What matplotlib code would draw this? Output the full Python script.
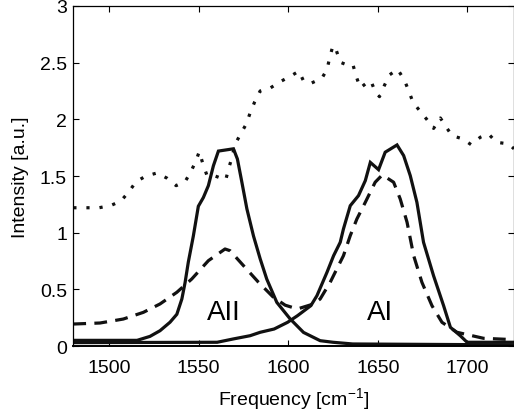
import matplotlib
matplotlib.use("Agg")
import matplotlib.pyplot as plt

plt.rcParams['font.family'] = ['Liberation Sans', 'DejaVu Sans']
plt.rcParams['mathtext.default'] = 'regular'

# measured spectrum (dotted)
spec_x = [1480, 1494.4, 1501, 1506.6, 1511, 1515, 1520.6, 1526.8, 1532.4, 1537.4,
          1542.4, 1545.7, 1548.5, 1550.3, 1552.3, 1554.5, 1557, 1559.2, 1565.1, 1566.6,
          1568.8, 1570, 1573, 1576.5, 1578.7, 1581.3, 1584.3, 1590, 1595.6, 1601.5,
          1605.9, 1608.7, 1612.8, 1618.8, 1621.6, 1623.2, 1624.9, 1626.9, 1629, 1632.3,
          1636.1, 1637.9, 1640.2, 1643, 1646.1, 1648.5, 1650.9, 1653.6, 1656.5, 1661,
          1664.7, 1667.2, 1669.6, 1673.3, 1677.4, 1681.1, 1684.9, 1687.8, 1691.4, 1697.5,
          1702, 1707.2, 1711.8, 1716.1, 1723, 1726]
spec_y = [1.22, 1.22, 1.24, 1.28, 1.36, 1.45, 1.50, 1.527, 1.48, 1.415,
          1.45, 1.54, 1.635, 1.715, 1.61, 1.51, 1.52, 1.50, 1.465, 1.56,
          1.675, 1.77, 1.86, 1.957, 2.056, 2.156, 2.25, 2.277, 2.333, 2.383,
          2.425, 2.333, 2.319, 2.363, 2.44, 2.548, 2.65, 2.604, 2.504, 2.483,
          2.483, 2.38, 2.277, 2.312, 2.34, 2.245, 2.2, 2.297, 2.392, 2.442,
          2.35, 2.253, 2.151, 2.077, 1.998, 1.92, 2.012, 1.94, 1.856, 1.827,
          1.777, 1.842, 1.871, 1.798, 1.783, 1.74]

# AII band (solid)
a2_x = [1480, 1515.6, 1522.8, 1528.4, 1534, 1537.8, 1540.6, 1542.4, 1544.2, 1547,
        1549.8, 1552.6, 1555.4, 1558.2, 1561, 1569.4, 1571.6, 1574.1, 1576.9, 1580.6,
        1584.3, 1588, 1593.6, 1601, 1608.5, 1617.8, 1625, 1636, 1726]
a2_y = [0.05, 0.05, 0.085, 0.135, 0.21, 0.28, 0.415, 0.56, 0.74, 0.97,
        1.233, 1.31, 1.415, 1.59, 1.72, 1.74, 1.65, 1.445, 1.21, 0.97,
        0.77, 0.59, 0.385, 0.24, 0.12, 0.047, 0.033, 0.018, 0.01]

# AI band (solid)
a1_x = [1480, 1560.3, 1569.2, 1578.7, 1584.3, 1592.1, 1599.6, 1605.1, 1612.6, 1616,
        1621.6, 1625.3, 1629, 1630.8, 1634.6, 1639.2, 1643, 1645.8, 1650.4, 1654.1,
        1660.7, 1664.4, 1668.1, 1671.8, 1675.5, 1681.1, 1686.7, 1690.5, 1696, 1699.8,
        1726]
a1_y = [0.03, 0.033, 0.062, 0.091, 0.121, 0.15, 0.209, 0.267, 0.356, 0.444,
        0.65, 0.797, 0.915, 1.033, 1.238, 1.327, 1.459, 1.62, 1.556, 1.71,
        1.774, 1.68, 1.503, 1.268, 0.915, 0.62, 0.356, 0.165, 0.091, 0.033,
        0.033]

# fit (dashed)
fit_x = [1480, 1494.9, 1507.9, 1519.1, 1528.4, 1537.8, 1546.1, 1555.4, 1564.7, 1567.5,
         1575, 1583.4, 1591.7, 1598.3, 1605.1, 1614.1, 1617.8, 1623.4, 1627.1, 1630.8,
         1634.6, 1638.3, 1643, 1648.5, 1652.5, 1658.8, 1662.5, 1666.3, 1670, 1674.6,
         1680.2, 1685.8, 1694.2, 1709, 1726]
fit_y = [0.194, 0.203, 0.238, 0.297, 0.371, 0.474, 0.591, 0.753, 0.856, 0.841,
         0.709, 0.562, 0.43, 0.36, 0.327, 0.371, 0.415, 0.562, 0.68, 0.797,
         0.974, 1.121, 1.268, 1.445, 1.51, 1.445, 1.297, 1.092, 0.797, 0.562,
         0.356, 0.209, 0.121, 0.068, 0.056]

yticks = [0, 0.5, 1, 1.5, 2, 2.5, 3]
ytick_labels = ['0', '0.5', '1', '1.5', '2', '2.5', '3']
xticks = [1500, 1550, 1600, 1650, 1700]

fig = plt.figure(figsize=(5.14, 4.14), dpi=100)
ax = fig.add_axes([0.1426, 0.1618, 0.8574, 0.8213])

ax.plot(spec_x, spec_y, color='#111111', lw=2.3, dashes=(1, 3.1))
ax.plot(a2_x, a2_y, color='#111111', lw=2.3, solid_joinstyle='miter')
ax.plot(a1_x, a1_y, color='#111111', lw=2.3, solid_joinstyle='miter')
ax.plot(fit_x, fit_y, color='#111111', lw=2.3, dashes=(4, 2.6))

ax.text(1564, 0.30, 'AII', fontsize=20, ha='center', va='center')
ax.text(1651, 0.30, 'AI', fontsize=20, ha='center', va='center')

ax.set_xlim(1480, 1726)
ax.set_ylim(0, 3)
ax.set_xticks(xticks)
ax.set_xticklabels([str(t) for t in xticks])
ax.set_yticks(yticks)
ax.set_yticklabels(ytick_labels)
ax.tick_params(direction='in', top=True, right=True, length=4, width=0.8,
               labelsize=14)
ax.tick_params(axis='x', pad=9)
ax.tick_params(axis='y', pad=4.5)
for s in ax.spines.values():
    s.set_linewidth(0.9)
ax.spines['bottom'].set_linewidth(1.4)

ax.set_xlabel('Frequency [cm$^{-1}$]', fontsize=14, labelpad=7)
ax.set_ylabel('Intensity [a.u.]', fontsize=14, labelpad=8)

fig.savefig('out.png', dpi=100)
